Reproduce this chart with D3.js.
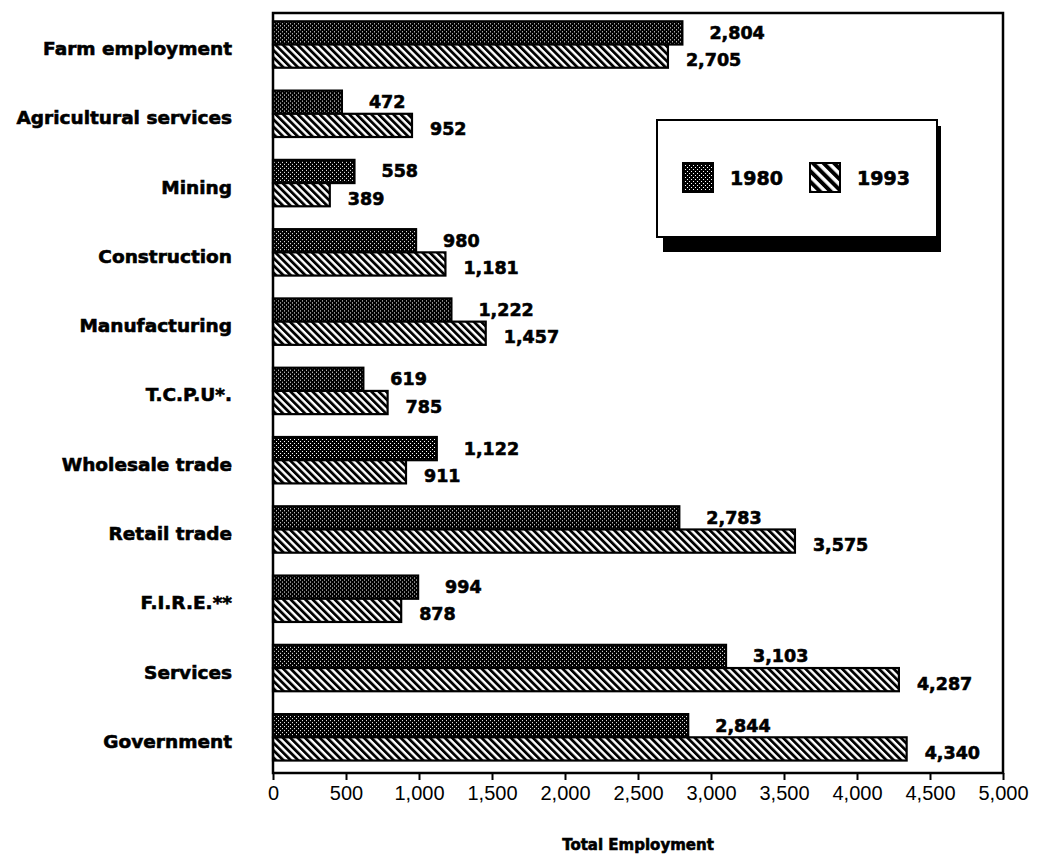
<!DOCTYPE html>
<html>
<head>
<meta charset="utf-8">
<script src="https://cdn.jsdelivr.net/npm/d3@7"></script>
<style>
  body { margin: 0; background: #fff; }
  svg { display: block; }
</style>
</head>
<body>
<svg id="chart" width="1040" height="856"></svg>
<script>
const categories = ["Farm employment", "Agricultural services", "Mining", "Construction",
  "Manufacturing", "T.C.P.U*.", "Wholesale trade", "Retail trade", "F.I.R.E.**",
  "Services", "Government"];
const seriesNames = ["1980", "1993"];
const values1980 = [2804, 472, 558, 980, 1222, 619, 1122, 2783, 994, 3103, 2844];
const values1993 = [2705, 952, 389, 1181, 1457, 785, 911, 3575, 878, 4287, 4340];
const xTicks = [0, 500, 1000, 1500, 2000, 2500, 3000, 3500, 4000, 4500, 5000];
const axisTitle = "Total Employment";

const svg = d3.select("#chart");
const plot = { left: 273, right: 1003, top: 13, bottom: 773 };
const boldFont = "'DejaVu Sans', sans-serif";
const regFont = "'Liberation Sans', Arial, sans-serif";

// patterns
const defs = svg.append("defs");
const dots = defs.append("pattern").attr("id", "dots")
  .attr("patternUnits", "userSpaceOnUse").attr("width", 4).attr("height", 4);
dots.append("rect").attr("width", 4).attr("height", 4).attr("fill", "#000");
dots.append("rect").attr("x", 0).attr("y", 0).attr("width", 1).attr("height", 1).attr("fill", "#fff");
dots.append("rect").attr("x", 2).attr("y", 2).attr("width", 1).attr("height", 1).attr("fill", "#fff");

function hatch(id, period, black) {
  const p = defs.append("pattern").attr("id", id)
    .attr("patternUnits", "userSpaceOnUse").attr("width", period).attr("height", period)
    .attr("patternTransform", "rotate(-45)");
  p.append("rect").attr("width", period).attr("height", period).attr("fill", "#fff");
  p.append("rect").attr("width", black).attr("height", period).attr("fill", "#000");
}
hatch("hatch", 5.2, 2.8);
hatch("hatchBig", 7.5, 4);

const fills = { "1980": "url(#dots)", "1993": "url(#hatch)" };
const legendFills = { "1980": "url(#dots)", "1993": "url(#hatchBig)" };

const x = d3.scaleLinear().domain([0, 5000]).range([plot.left, plot.right]);
const y = d3.scaleBand().domain(categories).range([plot.top, plot.bottom])
  .paddingInner(0.33).paddingOuter(0.15).align(0.4);
const ySub = d3.scaleBand().domain(seriesNames).range([0, y.bandwidth()]).padding(0);

const data = categories.map((c, i) => ({
  cat: c,
  vals: [{ s: "1980", v: values1980[i] }, { s: "1993", v: values1993[i] }]
}));

function heavy(sel, size) {
  return sel.attr("font-family", boldFont).attr("font-weight", "bold").attr("font-size", size)
    .attr("fill", "#000").attr("stroke", "#000").attr("stroke-width", 0.6);
}

// bars
const groups = svg.append("g").selectAll("g").data(data).join("g")
  .attr("transform", d => `translate(0,${y(d.cat)})`);

groups.selectAll("rect").data(d => d.vals).join("rect")
  .attr("x", x(0))
  .attr("y", d => ySub(d.s))
  .attr("width", d => x(d.v) - x(0))
  .attr("height", ySub.bandwidth())
  .attr("fill", d => fills[d.s])
  .attr("stroke", "#000").attr("stroke-width", 2.2);

const fmt = d3.format(",");
const labelOffset = { "1980": 27, "1993": 18 };
const labelDy = { "1980": 0, "1993": 4 };
heavy(groups.selectAll("text").data(d => d.vals).join("text")
  .attr("x", d => x(d.v) + labelOffset[d.s])
  .attr("y", d => ySub(d.s) + ySub.bandwidth() / 2 + labelDy[d.s])
  .attr("dominant-baseline", "central")
  .text(d => fmt(d.v)), 17.5);

// category labels
heavy(svg.append("g").selectAll("text").data(categories).join("text")
  .attr("x", 232)
  .attr("y", d => y(d) + y.bandwidth() / 2 + 4)
  .attr("text-anchor", "end")
  .attr("dominant-baseline", "central")
  .text(d => d), 18.5);

// frame
svg.append("rect")
  .attr("x", plot.left).attr("y", plot.top)
  .attr("width", plot.right - plot.left).attr("height", plot.bottom - plot.top)
  .attr("fill", "none").attr("stroke", "#000").attr("stroke-width", 2.5);

// x axis
const xAxis = d3.axisBottom(x).tickValues(xTicks).tickFormat(fmt).tickSize(7).tickPadding(6);
const ax = svg.append("g").attr("transform", `translate(0,${plot.bottom})`).call(xAxis);
ax.select(".domain").remove();
ax.selectAll(".tick line").attr("stroke", "#000").attr("stroke-width", 2);
ax.selectAll(".tick text").attr("font-family", regFont).attr("font-size", 20).attr("fill", "#000");

heavy(svg.append("text")
  .attr("x", (plot.left + plot.right) / 2).attr("y", 850)
  .attr("text-anchor", "middle")
  .text(axisTitle), 15);

// legend
const lg = svg.append("g");
lg.append("rect").attr("x", 663).attr("y", 126).attr("width", 278).attr("height", 126).attr("fill", "#000");
lg.append("rect").attr("x", 657).attr("y", 120).attr("width", 280).attr("height", 117)
  .attr("fill", "#fff").attr("stroke", "#000").attr("stroke-width", 2);
const legendX = { "1980": 683, "1993": 810 };
const li = lg.selectAll("g.item").data(seriesNames).join("g").attr("class", "item")
  .attr("transform", d => `translate(${legendX[d]},163)`);
li.append("rect").attr("width", 30).attr("height", 29)
  .attr("fill", d => legendFills[d]).attr("stroke", "#000").attr("stroke-width", 2);
heavy(li.append("text").attr("x", 47).attr("y", 15).attr("dominant-baseline", "central")
  .text(d => d), 19);
</script>
</body>
</html>
